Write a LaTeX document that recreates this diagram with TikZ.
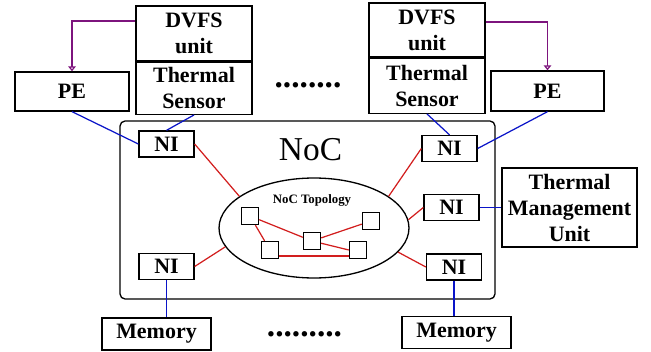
\documentclass[tikz,border=0pt]{standalone}
\usepackage{fontspec}
\setmainfont{Liberation Serif}
\usepackage{tikz}
\usetikzlibrary{positioning, arrows.meta, shapes.geometric}
\definecolor{linkblue}{RGB}{10,20,200}
\definecolor{linkred}{RGB}{210,30,30}
\definecolor{ctrlpurple}{RGB}{125,20,125}
\tikzset{
  unitbox/.style={
    draw=black, fill=white, line width=0.75pt, inner sep=0pt,
    align=center, font=\fontsize{12.5}{14.8}\selectfont\bfseries
  },
  nibox/.style={unitbox, minimum width=1.1cm, minimum height=0.52cm},
  routerbox/.style={draw=black, line width=0.75pt, minimum size=0.34cm, inner sep=0pt},
  bluelink/.style={draw=linkblue, line width=0.7pt},
  redlink/.style={draw=linkred, line width=0.7pt},
  ctrllink/.style={draw=ctrlpurple, line width=0.7pt,
    -{Triangle[open, length=1mm, width=1.5mm]}},
  dotrow/.style={inner sep=0pt, anchor=base, font=\fontsize{19}{20}\selectfont\bfseries}
}
\begin{document}
\begin{tikzpicture}[x=0.02cm, y=-0.02cm]
  \useasboundingbox (0,0) rectangle (651,351);

  % NoC frame and topology
  \node[draw=black, line width=0.75pt, rounded corners=1mm,
        minimum width=7.5cm, minimum height=3.56cm] (noc) at (307.5,210) {};
  \node[inner sep=0pt, font=\fontsize{19}{20}\selectfont] (noclabel) at (310.5,149.5) {NoC};
  \node[ellipse, draw=black, line width=0.75pt, inner sep=0pt,
        minimum width=3.8cm, minimum height=2cm] (topo) at (314,228) {};
  \node[inner sep=0pt, anchor=base, font=\fontsize{7.3}{8}\selectfont\bfseries] (topolabel) at (312,203) {NoC Topology};

  % routers
  \node[routerbox] (r1) at (250,216) {};
  \node[routerbox] (r2) at (270,250) {};
  \node[routerbox] (r3) at (312,241) {};
  \node[routerbox] (r4) at (371,221) {};
  \node[routerbox] (r5) at (358,250) {};
  \draw[redlink] (r1) -- (r2);
  \draw[redlink] (r1) -- (r3);
  \draw[redlink] (r3) -- (r4);
  \draw[redlink] (r3) -- (r5.west);
  \draw[redlink] ([yshift=-0.12cm]r2.east) -- ([yshift=-0.12cm]r5.west);

  % network interfaces
  \node[nibox] (nitl) at (166.5,144) {NI};
  \node[nibox] (nitr) at (449.5,148.5) {NI};
  \node[nibox] (nimr) at (451.5,207.5) {NI};
  \node[nibox] (nibr) at (454,267) {NI};
  \node[nibox] (nibl) at (166.5,266.5) {NI};
  \draw[redlink] (nitl.east) -- (topo.157);
  \draw[redlink] (nitr.west) -- (topo.23);
  \draw[redlink] (nimr.west) -- (topo.5);
  \draw[redlink] (nibr.west) -- (topo.-16);
  \draw[redlink] (nibl.east) -- (topo.192);

  % left tile
  \node[unitbox, minimum width=2.32cm, minimum height=1.1cm] (dvfsleft) at (194,33.5) {DVFS\\unit};
  \node[unitbox, minimum width=2.32cm, minimum height=1.04cm, below=0pt of dvfsleft] (tsleft) {Thermal\\Sensor};
  \node[unitbox, minimum width=2.28cm, minimum height=0.78cm] (peleft) at (72,91.5) {PE};

  % right tile
  \node[unitbox, minimum width=2.32cm, minimum height=1.08cm] (dvfsright) at (427,30) {DVFS\\unit};
  \node[unitbox, minimum width=2.32cm, minimum height=1.1cm, below=0pt of dvfsright] (tsright) {Thermal\\Sensor};
  \node[unitbox, minimum width=2.26cm, minimum height=0.8cm] (peright) at (547.5,91) {PE};

  % thermal management and memories
  \node[unitbox, minimum width=2.7cm, minimum height=1.58cm] (tmu) at (569.5,207.5) {Thermal\\Management\\Unit};
  \node[unitbox, minimum width=2.18cm, minimum height=0.64cm] (memleft) at (156.5,334) {Memory};
  \node[unitbox, minimum width=2.18cm, minimum height=0.64cm] (memright) at (456.5,332.5) {Memory};

  \draw[ctrllink] ([yshift=0.25cm]dvfsleft.west) -| (peleft.north);
  \draw[ctrllink] ([yshift=0.16cm]dvfsright.east) -| (peright.north);

  \draw[bluelink] (peleft.south) -- (nitl.west);
  \draw[bluelink] (tsleft.south) -- (nitl.north);
  \draw[bluelink] (tsright.south) -- (nitr.north);
  \draw[bluelink] (peright.south) -- (nitr.east);
  \draw[bluelink] (nimr.east) -- (tmu.west);
  \draw[bluelink] (nibl.south) -- (nibl.south |- memleft.north);
  \draw[bluelink] (nibr.south) -- (nibr.south |- memright.north);

  \node[dotrow] (dotstop) at (308,88) {........};
  \node[dotrow] (dotsbottom) at (304.5,336) {.........};
\end{tikzpicture}
\end{document}
